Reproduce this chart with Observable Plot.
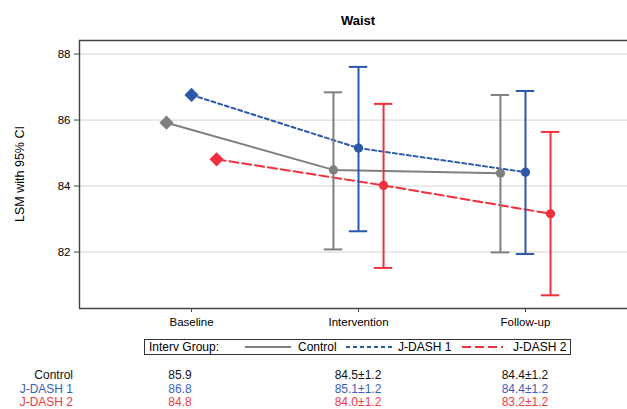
<!DOCTYPE html>
<html>
<head>
<meta charset="utf-8">
<script src="https://cdn.jsdelivr.net/npm/d3@7"></script>
<script src="https://cdn.jsdelivr.net/npm/@observablehq/plot@0.6"></script>
<style>
  body { margin: 0; background: #fff; font-family: "Liberation Sans", Arial, sans-serif; }
  #wrap { position: relative; width: 627px; height: 409px; overflow: hidden; }
  .abs { position: absolute; white-space: nowrap; }
</style>
</head>
<body>
<div id="wrap"></div>
<script>
// ---------- data ----------
const title = "Waist";
const yLabel = "LSM with 95% CI";
const legendTitle = "Interv Group:";
const categories = ["Baseline", "Intervention", "Follow-up"];
const groups = ["Control", "J-DASH 1", "J-DASH 2"];
const yTicks = [82, 84, 86, 88];

const controlMean = [85.92, 84.49, 84.39];
const controlLow  = [null, 82.08, 81.99];
const controlHigh = [null, 86.84, 86.76];

const jdash1Mean = [86.76, 85.15, 84.42];
const jdash1Low  = [null, 82.63, 81.94];
const jdash1High = [null, 87.61, 86.88];

const jdash2Mean = [84.81, 84.02, 83.16];
const jdash2Low  = [null, 81.52, 80.69];
const jdash2High = [null, 86.49, 85.64];

const tableControl = ["85.9", "84.5±1.2", "84.4±1.2"];
const tableJdash1  = ["86.8", "85.1±1.2", "84.4±1.2"];
const tableJdash2  = ["84.8", "84.0±1.2", "83.2±1.2"];

// ---------- styles ----------
const colors = ["#7f7f7f", "#2b58aa", "#f0303c"];
const textColors = ["#111111", "#3a60b8", "#f03a44"];
const dashes = [null, "4,3", "9,4"];
const dodge = [-0.15, 0, 0.15];
const capHalf = 0.055;

const means = [controlMean, jdash1Mean, jdash2Mean];
const lows = [controlLow, jdash1Low, jdash2Low];
const highs = [controlHigh, jdash1High, jdash2High];
const tables = [tableControl, tableJdash1, tableJdash2];

const rows = [];
groups.forEach((g, gi) => {
  categories.forEach((c, ci) => {
    rows.push({group: g, gi, ci, x: ci + dodge[gi], mean: means[gi][ci], low: lows[gi][ci], high: highs[gi][ci]});
  });
});
const ciRows = rows.filter(d => d.low != null);

const font = "'Liberation Sans', Arial, sans-serif";
const xDomain = [-0.671, 2.611];
const yDomain = [80.29, 88.41];

const marks = [
  Plot.ruleY(yTicks, {stroke: "#dcdcdc", strokeWidth: 1.3}),
  Plot.ruleY([yDomain[0], yDomain[1]], {stroke: "#444", strokeWidth: 1.4}),
  Plot.ruleX([xDomain[0]], {stroke: "#444", strokeWidth: 1.4}),
  Plot.axisY({ticks: yTicks, tickSize: 5, tickPadding: 4, label: null, stroke: "#444"}),
  Plot.axisX({ticks: [0, 1, 2], tickFormat: i => categories[i], tickSize: 4, tickPadding: 5, label: null, stroke: "#444"})
];
groups.forEach((g, gi) => {
  const d = rows.filter(r => r.gi === gi);
  marks.push(Plot.line(d, {x: "x", y: "mean", stroke: colors[gi], strokeWidth: 2, strokeDasharray: dashes[gi]}));
});
groups.forEach((g, gi) => {
  const d = ciRows.filter(r => r.gi === gi);
  marks.push(Plot.ruleX(d, {x: "x", y1: "low", y2: "high", stroke: colors[gi], strokeWidth: 2}));
  marks.push(Plot.ruleY(d, {y: "low", x1: r => r.x - capHalf, x2: r => r.x + capHalf, stroke: colors[gi], strokeWidth: 2}));
  marks.push(Plot.ruleY(d, {y: "high", x1: r => r.x - capHalf, x2: r => r.x + capHalf, stroke: colors[gi], strokeWidth: 2}));
  marks.push(Plot.dot(d, {x: "x", y: "mean", r: 4.6, fill: colors[gi], stroke: "none"}));
  marks.push(Plot.dot(rows.filter(r => r.gi === gi && r.ci === 0), {x: "x", y: "mean", symbol: "diamond2", r: 6.4, fill: colors[gi], stroke: "none"}));
});

const chart = Plot.plot({
  width: 627,
  height: 303,
  marginTop: 10,
  marginLeft: 79,
  marginRight: 0,
  marginBottom: 25,
  x: {type: "linear", domain: xDomain},
  y: {domain: yDomain},
  style: {fontFamily: font, fontSize: "11.5px", color: "#000", background: "transparent"},
  marks
});

const wrap = document.getElementById("wrap");
const xs = chart.scale("x");

// title
const t = document.createElement("div");
t.className = "abs";
t.textContent = title;
t.style.cssText = `left:${xs.apply(1)}px;top:13px;transform:translateX(-50%);font:bold 13px ${font};color:#000;`;
wrap.appendChild(t);

// chart
const cwrap = document.createElement("div");
cwrap.className = "abs";
cwrap.style.cssText = "left:0;top:30px;";
cwrap.appendChild(chart);
wrap.appendChild(cwrap);

// y label
const yl = document.createElement("div");
yl.className = "abs";
yl.textContent = yLabel;
yl.style.cssText = `left:20px;top:174px;transform:translate(-50%,-50%) rotate(-90deg);font:12.5px ${font};color:#000;`;
wrap.appendChild(yl);

// legend
const ns = "http://www.w3.org/2000/svg";
const leg = document.createElement("div");
leg.className = "abs";
leg.style.cssText = `left:144px;top:339px;width:425px;height:14px;border:1px solid #333;font:12px ${font};color:#000;`;
const lt = document.createElement("span");
lt.className = "abs";
lt.textContent = legendTitle;
lt.style.cssText = "left:4px;top:0px;line-height:14px;";
leg.appendChild(lt);
const swatchX = [100, 201, 317];
const labelX = [153, 253, 368];
const swatchW = [46, 46, 41];
groups.forEach((g, gi) => {
  const svg = document.createElementNS(ns, "svg");
  svg.setAttribute("width", swatchW[gi]);
  svg.setAttribute("height", 14);
  svg.style.position = "absolute";
  svg.style.left = swatchX[gi] + "px";
  svg.style.top = "0px";
  const ln = document.createElementNS(ns, "line");
  ln.setAttribute("x1", 0); ln.setAttribute("x2", swatchW[gi]);
  ln.setAttribute("y1", 7); ln.setAttribute("y2", 7);
  ln.setAttribute("stroke", colors[gi]);
  ln.setAttribute("stroke-width", 2);
  if (dashes[gi]) ln.setAttribute("stroke-dasharray", dashes[gi]);
  svg.appendChild(ln);
  leg.appendChild(svg);
  const s = document.createElement("span");
  s.className = "abs";
  s.textContent = g;
  s.style.cssText = `left:${labelX[gi]}px;top:0px;line-height:14px;`;
  leg.appendChild(s);
});
wrap.appendChild(leg);

// table
const rowY = [375, 389, 402];
const colCenter = [xs.apply(0) - 11, xs.apply(1), xs.apply(2)];
groups.forEach((g, gi) => {
  const lab = document.createElement("div");
  lab.className = "abs";
  lab.textContent = g;
  lab.style.cssText = `right:${627 - 73}px;top:${rowY[gi]}px;transform:translateY(-50%);font:12px ${font};color:${textColors[gi]};line-height:13px;`;
  wrap.appendChild(lab);
  tables[gi].forEach((v, ci) => {
    const c = document.createElement("div");
    c.className = "abs";
    c.textContent = v;
    c.style.cssText = `left:${colCenter[ci]}px;top:${rowY[gi]}px;transform:translate(-50%,-50%);font:12px ${font};color:${textColors[gi]};line-height:13px;`;
    wrap.appendChild(c);
  });
});
</script>
</body>
</html>
